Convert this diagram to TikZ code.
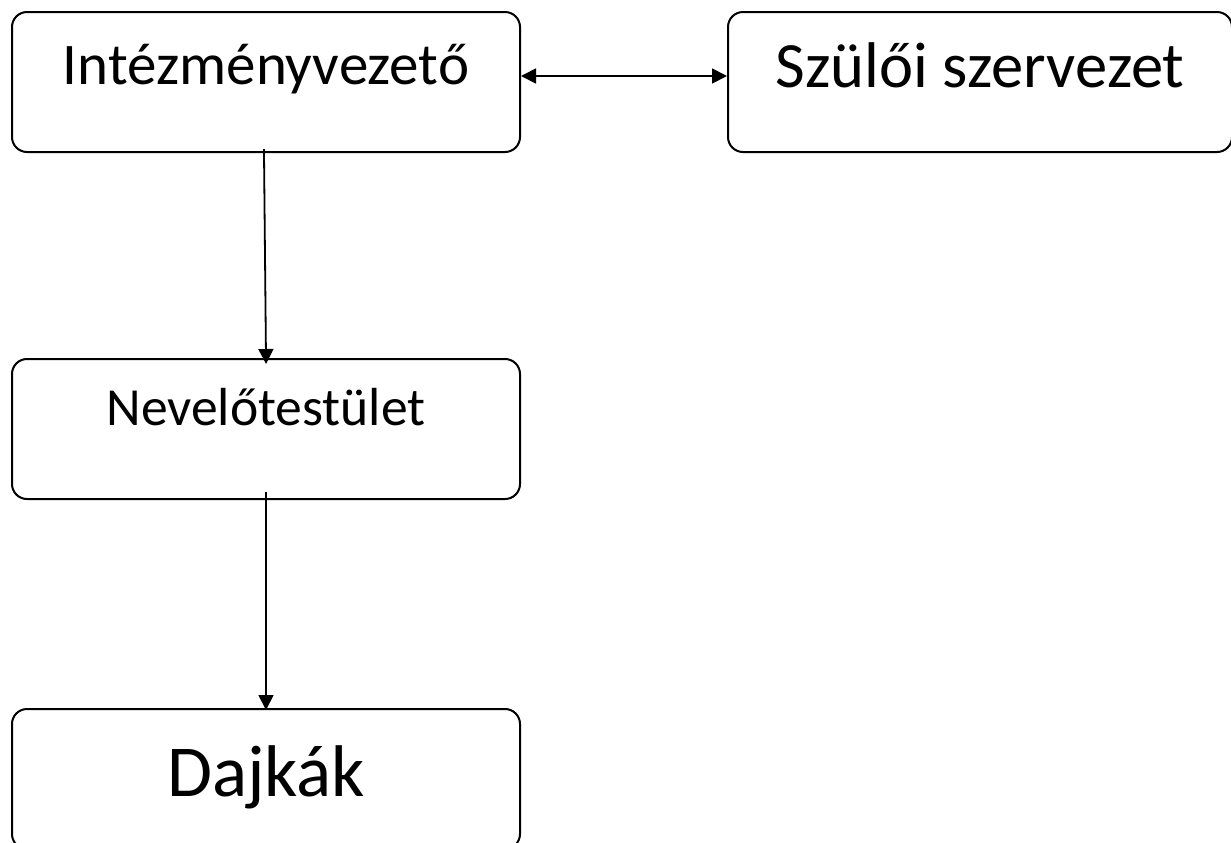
\documentclass[tikz,border=0pt]{standalone}
\usepackage{fontspec}
\setmainfont{Carlito}
\usetikzlibrary{arrows.meta,positioning}
\definecolor{orgLine}{HTML}{000000}
\definecolor{orgInk}{HTML}{000000}
\tikzset{
  orgbox/.style={
    rectangle, rounded corners=7.5pt, draw=orgLine, line width=1pt,
    fill=white, text=orgInk, inner sep=0pt,
    minimum width=254pt, minimum height=70pt
  },
  orglink/.style={-{Triangle[length=7.5pt,width=7.5pt]}, draw=orgLine, line width=0.9pt},
  orgboth/.style={{Triangle[length=7.5pt,width=7.5pt]}-{Triangle[length=7.5pt,width=7.5pt]}, draw=orgLine, line width=0.9pt}
}

\begin{document}
\begin{tikzpicture}[x=0.5pt, y=-0.5pt]
\useasboundingbox (0,0) rectangle (1231,842);

% Vezetés
\node[orgbox, font=\fontsize{29.5pt}{36pt}\selectfont, text height=18.9pt, text depth=16.5pt] (vez) at (266,82) {Intézményvezető};
\node[orgbox, minimum width=252pt, font=\fontsize{32.3pt}{38pt}\selectfont, text height=20.4pt, text depth=15.4pt, right=103pt of vez] (szulo) {Szülői szervezet};

% Alsóbb szintek
\node[orgbox, font=\fontsize{26.8pt}{32pt}\selectfont, text height=16.9pt, text depth=20.6pt, below=102.5pt of vez] (nev) {Nevelőtestület};
\node[orgbox, font=\fontsize{36.6pt}{43pt}\selectfont, text height=23.1pt, text depth=5.8pt, below=104pt of nev] (dajka) {Dajkák};

% Kapcsolatok
\draw[orgboth] ([yshift=3pt]vez.east) -- ([yshift=3pt]szulo.west);
\draw[orglink, shorten <=-2pt, shorten >=-3pt] ([xshift=-1pt]vez.south) -- (nev.north);
\draw[orglink, shorten <=-4pt, shorten >=-1pt] (nev.south) -- (dajka.north);

\end{tikzpicture}
\end{document}
